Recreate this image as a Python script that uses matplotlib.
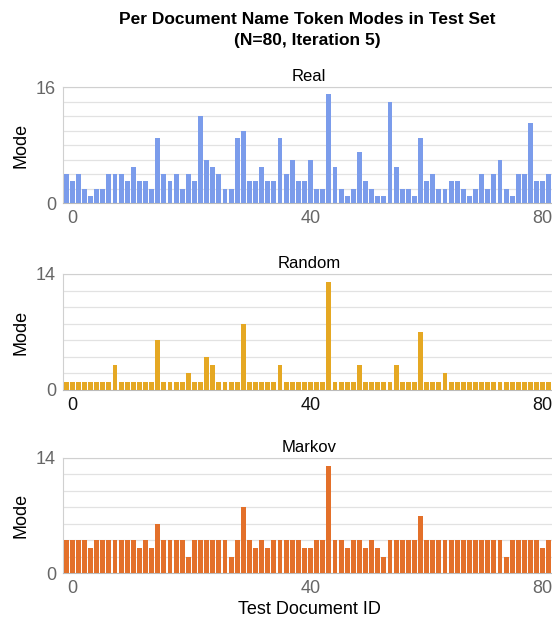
import matplotlib
matplotlib.use('Agg')
import matplotlib.pyplot as plt
import numpy as np

plt.rcParams.update({
    'font.family': ['Liberation Sans', 'DejaVu Sans'],
    'axes.linewidth': 0.8,
})

# Data: mode of name tokens per test document (IDs 0..79)
doc_ids = np.arange(80)

real_modes = [4, 3, 4, 2, 1, 2, 2, 4, 4, 4,
              3, 5, 3, 3, 2, 9, 4, 3, 4, 2,
              4, 3, 12, 6, 5, 4, 2, 2, 9, 10,
              3, 3, 5, 3, 3, 9, 4, 6, 3, 3,
              6, 2, 2, 15, 5, 2, 1, 2, 7, 3,
              2, 1, 1, 14, 5, 2, 2, 1, 9, 3,
              4, 2, 2, 3, 3, 2, 1, 2, 4, 2,
              4, 6, 2, 1, 4, 4, 11, 3, 3, 4]

random_modes = [1, 1, 1, 1, 1, 1, 1, 1, 3, 1,
                1, 1, 1, 1, 1, 6, 1, 1, 1, 1,
                2, 1, 1, 4, 3, 1, 1, 1, 1, 8,
                1, 1, 1, 1, 1, 3, 1, 1, 1, 1,
                1, 1, 1, 13, 1, 1, 1, 1, 3, 1,
                1, 1, 1, 1, 3, 1, 1, 1, 7, 1,
                1, 1, 2, 1, 1, 1, 1, 1, 1, 1,
                1, 1, 1, 1, 1, 1, 1, 1, 1, 1]

markov_modes = [4, 4, 4, 4, 3, 4, 4, 4, 4, 4,
                4, 4, 3, 4, 3, 6, 4, 4, 4, 4,
                2, 4, 4, 4, 4, 4, 4, 2, 4, 8,
                4, 3, 4, 3, 4, 4, 4, 4, 4, 3,
                3, 4, 4, 13, 4, 4, 3, 4, 4, 3,
                4, 3, 2, 4, 4, 4, 4, 4, 7, 4,
                4, 4, 4, 4, 4, 4, 4, 4, 4, 4,
                4, 4, 2, 4, 4, 4, 4, 4, 3, 4]

panel_titles = ['Real', 'Random', 'Markov']
panel_ymax = [16, 14, 14]
panel_colors = ['#7b9ceb', '#e5a823', '#e3702a']
x_ticks = [0, 40, 80]
x_ticklabels = ['0', '40', '80']

fig = plt.figure(figsize=(5.52, 6.26), dpi=100)
W, H = 552.0, 626.0

# axes boxes in pixels: (top, bottom)
boxes = [(87, 203), (274, 390), (458, 573)]
left_px, right_px = 63, 555

series = [real_modes, random_modes, markov_modes]
xtick_colors = ['#666666', '#111111', '#666666']
# horizontal alignment / nudge (points) of the x tick labels, like the sheets chart
lab_align = [('left', 1), ('center', 0), ('right', -2)]

for i, (vals, title, ymax, color) in enumerate(zip(series, panel_titles, panel_ymax, panel_colors)):
    top, bot = boxes[i]
    ax = fig.add_axes([left_px / W, 1 - bot / H, (right_px - left_px) / W, (bot - top) / H])
    ax.bar(doc_ids, vals, width=0.8, color=color, zorder=3)
    ax.set_xlim(-0.5, 80.0)
    ax.set_ylim(0, ymax)

    ax.set_yticks([0, ymax])
    ax.set_yticks(np.arange(0, ymax + 1, 2), minor=True)
    ax.grid(True, axis='y', which='both', color='#e2e2e2', linewidth=0.9, zorder=0)
    ax.tick_params(axis='y', which='both', length=0, pad=5, labelsize=13, labelcolor='#666666')

    # x tick labels drawn by hand so "80" stays inside the figure
    ax.set_xticks([])
    for xt, lab, (ha, dx) in zip(x_ticks, x_ticklabels, lab_align):
        ax.annotate(lab, xy=(xt, 0), xycoords=('data', 'axes fraction'),
                    xytext=(dx, -5), textcoords='offset points',
                    ha=ha, va='top', fontsize=13, color=xtick_colors[i],
                    annotation_clip=False)

    for s in ax.spines.values():
        s.set_color('#d0d0d0')
        s.set_linewidth(0.8)
    ax.spines['bottom'].set_color('#bbbbbb')

    ax.set_title(title, fontsize=12, pad=4)
    ax.set_ylabel('Mode', fontsize=13)
    ax.yaxis.set_label_coords(-0.068, 0.5)

    if i == 2:
        ax.set_xlabel('Test Document ID', fontsize=13, labelpad=20)

fig.text(0.557, 1 - 20 / H, 'Per Document Name Token Modes in Test Set',
         ha='center', va='center', fontsize=12.5, fontweight='bold')
fig.text(0.557, 1 - 40 / H, '(N=80, Iteration 5)',
         ha='center', va='center', fontsize=12.5, fontweight='bold')

fig.savefig('out.png', dpi=100, facecolor='white')
